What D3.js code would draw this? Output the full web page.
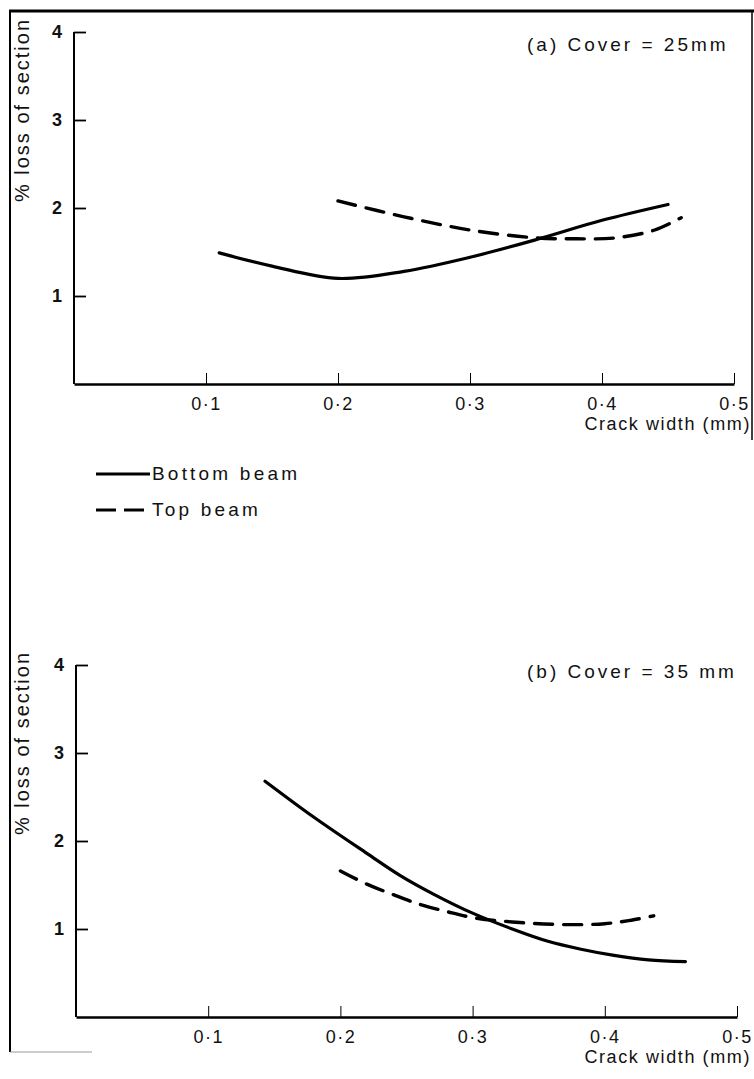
<!DOCTYPE html>
<html>
<head>
<meta charset="utf-8">
<script src="https://cdn.jsdelivr.net/npm/d3@7"></script>
<style>
  body { margin: 0; background: #fff; }
  svg text { font-family: "Liberation Sans", Arial, Helvetica, sans-serif; fill: #111; }
</style>
</head>
<body>
<script>
// x ticks and y ticks
const xTicks = [0.1, 0.2, 0.3, 0.4, 0.5];
const xTickLabels = ["0·1", "0·2", "0·3", "0·4", "0·5"];
const yTicks = [1, 2, 3, 4];

// (a) cover = 25mm
const aBottomX = [0.11, 0.15, 0.20, 0.25, 0.30, 0.35, 0.40, 0.45];
const aBottomY = [1.49, 1.34, 1.20, 1.28, 1.44, 1.64, 1.86, 2.04];
const aTopX = [0.20, 0.25, 0.30, 0.35, 0.38, 0.41, 0.44, 0.46];
const aTopY = [2.08, 1.90, 1.75, 1.66, 1.65, 1.66, 1.75, 1.89];

// (b) cover = 35mm
const bBottomX = [0.143, 0.18, 0.22, 0.245, 0.27, 0.30, 0.33, 0.357, 0.382, 0.407, 0.433, 0.461];
const bBottomY = [2.68, 2.27, 1.86, 1.61, 1.40, 1.18, 1.00, 0.86, 0.77, 0.70, 0.65, 0.63];
const bTopX = [0.20, 0.22, 0.24, 0.26, 0.28, 0.30, 0.33, 0.37, 0.40, 0.42, 0.437];
const bTopY = [1.66, 1.51, 1.39, 1.28, 1.20, 1.13, 1.08, 1.05, 1.06, 1.10, 1.15];

const panels = [
  { title: "(a) Cover = 25mm", x0: 74, x1: 734, y0: 384, y1: 32, titleY: 51,
    bottom: [aBottomX, aBottomY], topBeam: [aTopX, aTopY] },
  { title: "(b) Cover = 35 mm", x0: 76, x1: 737, y0: 1017, y1: 665, titleY: 678,
    bottom: [bBottomX, bBottomY], topBeam: [bTopX, bTopY] }
];

const svg = d3.select("body").append("svg")
  .attr("width", 754).attr("height", 1079);

// frame
svg.append("line").attr("x1", 9).attr("x2", 754).attr("y1", 11).attr("y2", 11)
  .attr("stroke", "#000").attr("stroke-width", 3);
svg.append("line").attr("x1", 10).attr("x2", 10).attr("y1", 10).attr("y2", 1052)
  .attr("stroke", "#000").attr("stroke-width", 2);
svg.append("line").attr("x1", 752).attr("x2", 752).attr("y1", 10).attr("y2", 440)
  .attr("stroke", "#000").attr("stroke-width", 1.5);
svg.append("line").attr("x1", 10).attr("x2", 92).attr("y1", 1052).attr("y2", 1052)
  .attr("stroke", "#999").attr("stroke-width", 1);

const line = (xs, ys, x, y) => d3.line().curve(d3.curveCatmullRom.alpha(0.5))
  .x((d, i) => x(xs[i])).y((d, i) => y(ys[i]))(xs);

panels.forEach((p, k) => {
  const x = d3.scaleLinear().domain([0, 0.5]).range([p.x0, p.x1]);
  const y = d3.scaleLinear().domain([0, 4]).range([p.y0, p.y1]);
  const g = svg.append("g");

  // y axis
  const ya = g.append("g").attr("transform", `translate(${p.x0},0)`)
    .call(d3.axisLeft(y).tickValues(yTicks).tickSizeInner(-12).tickSizeOuter(0).tickPadding(12)
      .tickFormat(d3.format("d")));
  ya.select(".domain").attr("stroke-width", 2).attr("d", `M0,${p.y1}V${p.y0}`);
  ya.selectAll(".tick line").attr("stroke-width", 1.8);
  ya.selectAll(".tick text").attr("font-size", 18).attr("font-weight", "bold")
    .attr("font-family", "'Liberation Sans', Arial, sans-serif").attr("fill", "#111");

  // x axis
  const xa = g.append("g").attr("transform", `translate(0,${p.y0})`)
    .call(d3.axisBottom(x).tickValues(xTicks).tickSizeInner(-11).tickSizeOuter(0).tickPadding(13)
      .tickFormat((d, i) => xTickLabels[i]));
  xa.select(".domain").attr("stroke-width", 2.5);
  xa.selectAll(".tick line").attr("stroke-width", 1);
  xa.selectAll(".tick text").attr("font-size", 18).attr("letter-spacing", 1.5)
    .attr("font-family", "'Liberation Sans', Arial, sans-serif").attr("fill", "#111");

  g.append("text").attr("x", 751).attr("y", p.y0 + 46).attr("text-anchor", "end")
    .attr("font-size", 18).attr("letter-spacing", 1.6).text("Crack width (mm)");

  g.append("text").attr("transform", `translate(29,${p.y1 + 78}) rotate(-90)`)
    .attr("text-anchor", "middle").attr("font-size", 20)
    .attr("letter-spacing", 2).text("% loss of section");

  g.append("text").attr("x", 527).attr("y", p.titleY)
    .attr("font-size", 19).attr("letter-spacing", 3).text(p.title);

  g.append("path").attr("d", line(p.bottom[0], p.bottom[1], x, y))
    .attr("fill", "none").attr("stroke", "#000").attr("stroke-width", 3.2)
    .attr("stroke-linecap", "round");
  g.append("path").attr("d", line(p.topBeam[0], p.topBeam[1], x, y))
    .attr("fill", "none").attr("stroke", "#000").attr("stroke-width", 3.4)
    .attr("stroke-dasharray", "18,11").attr("stroke-linecap", "round");
});

// legend
const legend = svg.append("g");
const legendItems = [["Bottom beam", null], ["Top beam", "20,8"]];
legendItems.forEach((d, i) => {
  const ly = 474 + i * 36;
  legend.append("line").attr("x1", 96).attr("x2", 150).attr("y1", ly).attr("y2", ly)
    .attr("stroke", "#000").attr("stroke-width", 3).attr("stroke-dasharray", d[1]);
  legend.append("text").attr("x", 152).attr("y", ly + 6).attr("font-size", 19)
    .attr("letter-spacing", 3.2).text(d[0]);
});
</script>
</body>
</html>
